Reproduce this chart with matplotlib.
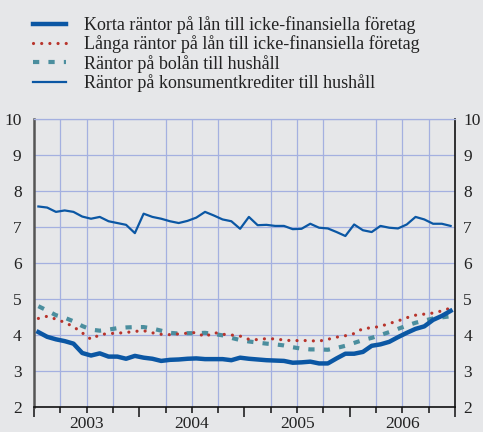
import numpy as np
import matplotlib.pyplot as plt

# monthly data jan 2003 - dec 2006
years = ["2003", "2004", "2005", "2006"]

korta = [4.08, 3.95, 3.88, 3.83, 3.76, 3.50, 3.43, 3.49, 3.40, 3.40, 3.34, 3.42,
         3.37, 3.34, 3.28, 3.31, 3.32, 3.34, 3.35, 3.33, 3.33, 3.33, 3.30, 3.37,
         3.34, 3.32, 3.30, 3.29, 3.28, 3.23, 3.24, 3.26, 3.21, 3.21, 3.35, 3.48,
         3.48, 3.53, 3.70, 3.74, 3.81, 3.94, 4.06, 4.17, 4.24, 4.42, 4.53, 4.67]

langa = [4.46, 4.52, 4.44, 4.35, 4.23, 4.06, 3.88, 4.01, 4.04, 4.05, 4.07, 4.10,
         4.12, 4.06, 4.02, 4.01, 4.03, 4.05, 4.07, 3.95, 4.07, 4.02, 4.00, 3.97,
         3.88, 3.87, 3.90, 3.89, 3.86, 3.84, 3.85, 3.84, 3.83, 3.88, 3.94, 3.98,
         4.04, 4.18, 4.20, 4.24, 4.32, 4.39, 4.48, 4.55, 4.58, 4.61, 4.67, 4.75]

bolan = [4.80, 4.68, 4.55, 4.48, 4.38, 4.25, 4.15, 4.12, 4.15, 4.19, 4.21, 4.22,
         4.22, 4.18, 4.12, 4.06, 4.04, 4.05, 4.05, 4.06, 4.03, 3.99, 3.92, 3.86,
         3.82, 3.79, 3.76, 3.74, 3.71, 3.66, 3.62, 3.60, 3.60, 3.59, 3.64, 3.70,
         3.78, 3.86, 3.92, 4.00, 4.08, 4.17, 4.26, 4.34, 4.40, 4.46, 4.49, 4.52]

konsument = [7.57, 7.54, 7.42, 7.46, 7.42, 7.29, 7.23, 7.28, 7.16, 7.11, 7.06, 6.83,
             7.37, 7.28, 7.23, 7.16, 7.11, 7.17, 7.26, 7.42, 7.32, 7.21, 7.16, 6.95,
             7.28, 7.05, 7.06, 7.03, 7.03, 6.94, 6.95, 7.09, 6.98, 6.96, 6.86, 6.75,
             7.07, 6.91, 6.86, 7.03, 6.98, 6.96, 7.07, 7.28, 7.21, 7.09, 7.09, 7.03]

labels = ["Korta räntor på lån till icke-finansiella företag",
          "Långa räntor på lån till icke-finansiella företag",
          "Räntor på bolån till hushåll",
          "Räntor på konsumentkrediter till hushåll"]

plt.rcParams['font.family'] = ['Liberation Serif', 'DejaVu Serif']

bg = "#e6e7e9"
blue = "#0b57a4"
red = "#b8342c"
teal = "#4b8e9e"
gridc = "#a4b0e0"
txt = "#222222"

fig = plt.figure(figsize=(4.83, 4.32), dpi=100, facecolor=bg)
ax = fig.add_axes([34/483, 25/432, 421/483, 288/432], facecolor=bg)

x = np.arange(len(korta)) + 0.5

l1, = ax.plot(x, korta, color=blue, lw=3.2, solid_joinstyle="round", zorder=5)
l2, = ax.plot(x, langa, color=red, lw=2.3, linestyle=(0, (0.01, 2.55)),
              dash_capstyle="round", zorder=4)
l3, = ax.plot(x, bolan, color=teal, lw=3.0, linestyle=(0, (1.5, 2.2)), zorder=3)
l4, = ax.plot(x, konsument, color=blue, lw=1.6, zorder=4)

ax.set_xlim(0, 48)
ax.set_ylim(2, 10)
ax.set_yticks(range(2, 11))
ax.set_xticks(range(0, 49, 3), minor=True)
ax.set_xticks(range(0, 49, 12))
ax.set_xticklabels([])
ax.grid(True, which="minor", axis="x", color=gridc, lw=0.9)
ax.grid(True, which="major", axis="y", color=gridc, lw=0.9)
ax.set_axisbelow(True)

ax.tick_params(axis="y", length=0, labelsize=12.5, labelcolor=txt, pad=9)
ax.tick_params(axis="x", which="major", length=7, width=1.2, color=txt)
ax.tick_params(axis="x", which="minor", length=4, width=1.2, color=txt)

# right hand scale
ax2 = ax.twinx()
ax2.set_ylim(2, 10)
ax2.set_yticks(range(2, 11))
ax2.tick_params(axis="y", length=0, labelsize=12.5, labelcolor=txt, pad=6)
for s in ax2.spines.values():
    s.set_visible(False)

for i, yr in enumerate(years):
    ax.text(i * 12 + 6, -0.03, yr, transform=ax.get_xaxis_transform(),
            ha="center", va="top", fontsize=12.5, color=txt)

ax.spines["top"].set_color(gridc)
ax.spines["top"].set_linewidth(0.9)
ax.spines["left"].set_color("#555555")
ax.spines["left"].set_linewidth(1.8)
ax.spines["right"].set_color("#111111")
ax.spines["right"].set_linewidth(1.2)
ax.spines["bottom"].set_color("#111111")
ax.spines["bottom"].set_linewidth(1.2)

fig.legend([l1, l2, l3, l4], labels, loc="upper left", bbox_to_anchor=(0.035, 1.0),
           frameon=False, fontsize=13, handlelength=1.8, handletextpad=1.0,
           labelspacing=0.08, labelcolor=txt)

fig.savefig("out.png", dpi=100, facecolor=bg)
